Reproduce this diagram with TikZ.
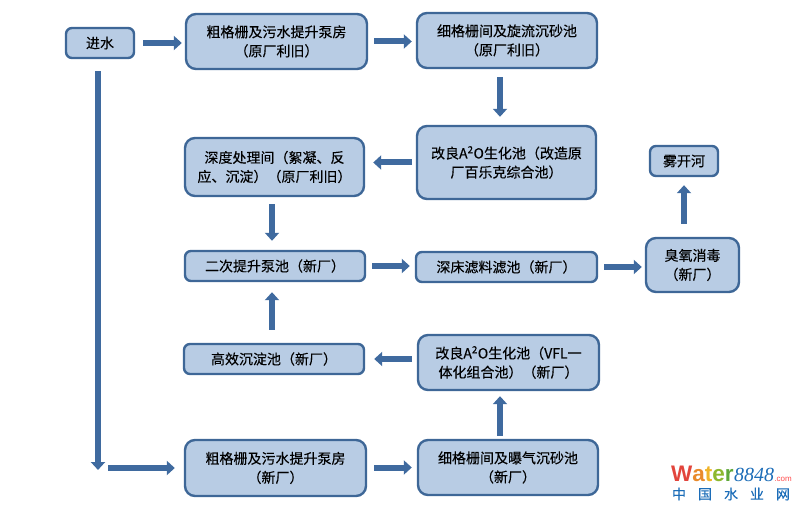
\documentclass[tikz,border=0pt]{standalone}
\usepackage{fontspec}
\setmainfont{Liberation Sans}
\newfontfamily\cjk[FakeBold=0.25]{Noto Sans CJK SC}
\newfontfamily\logofont{Liberation Serif}
\usetikzlibrary{arrows.meta}
\definecolor{boxfill}{HTML}{B8CCE4}
\definecolor{boxline}{HTML}{3E6797}
\definecolor{flowline}{HTML}{3F6A9F}
\definecolor{logoblue}{HTML}{1C6DB8}
\tikzset{
    tank/.style={draw=boxline, fill=boxfill, line width=2.4pt, rounded corners=10pt, align=center, inner sep=0pt,
        font=\cjk\fontsize{14}{19}\selectfont, text=black},
    slimtank/.style={tank, rounded corners=6pt},
    tanksize/.style n args={2}{minimum width=#1pt, minimum height=#2pt},
    flow/.style={draw=flowline, line width=6pt, shorten <=8pt, shorten >=4pt,
        -{Triangle[length=8pt,width=14pt]}},
}
\begin{document}
\begin{tikzpicture}[x=1pt, y=-1pt]
    \useasboundingbox (0,0) rectangle (800,510);

    \node[slimtank, tanksize={68}{30}] (inlet) at (100,43) {进水};
    \node[tank, tanksize={181}{55}] (oldscreen) at (276.5,41.5) {粗格栅及污水提升泵房\\（原厂利旧）};
    \node[tank, tanksize={180}{55}] (oldgrit) at (507,40.5) {细格栅间及旋流沉砂池\\（原厂利旧）};
    \node[tank, tanksize={179}{73}] (oldbio) at (506.5,162.5) {改良A\textsuperscript{2}O生化池（改造原\\厂百乐克综合池）};
    \node[tank, tanksize={179}{58}] (deep) at (274.5,167) {深度处理间（絮凝、反\\应、沉淀）（原厂利旧）};
    \node[slimtank, tanksize={180}{30}] (lift) at (275,266) {二次提升泵池（新厂）};
    \node[slimtank, tanksize={181}{30}] (filter) at (506.5,267) {深床滤料滤池（新厂）};
    \node[tank, tanksize={93}{54}] (ozone) at (692.5,265) {臭氧消毒\\（新厂）};
    \node[slimtank, tanksize={68}{30}] (river) at (684,161) {雾开河};
    \node[slimtank, tanksize={180}{30}] (settle) at (274,359) {高效沉淀池（新厂）};
    \node[tank, tanksize={181}{55}] (newbio) at (508.5,362.5) {改良A\textsuperscript{2}O生化池（VFL一\\体化组合池）（新厂）};
    \node[tank, tanksize={181}{56}] (newscreen) at (275.5,468) {粗格栅及污水提升泵房\\（新厂）};
    \node[tank, tanksize={180}{55}] (newgrit) at (508,467.5) {细格栅间及曝气沉砂池\\（新厂）};

    \coordinate (bend) at (98,470);

    \draw[flow, shorten >=3pt] (inlet.east) -- (inlet.east -| oldscreen.west);
    \draw[flow, shorten <=6pt] (oldscreen.east) -- (oldscreen.east -| oldgrit.west);
    \draw[flow, shorten >=8pt] (oldgrit.south -| 500,0) -- (oldbio.north -| 500,0);
    \draw[flow, shorten <=4pt, shorten >=8pt] (oldbio.west) -- (oldbio.west -| deep.east);
    \draw[flow, shorten <=7pt, shorten >=9pt] (deep.south -| 272,0) -- (lift.north -| 272,0);
    \draw[flow, shorten <=6pt, shorten >=5pt] (lift.east) -- (lift.east -| filter.west);
    \draw[flow, shorten <=6pt, shorten >=3pt] (filter.east) -- (filter.east -| ozone.west);
    \draw[flow, shorten <=13pt, shorten >=8pt] (ozone.north -| river.south) -- (river.south);
    \draw[flow, shorten <=13pt, shorten >=10pt] (settle.north -| 272,0) -- (lift.south -| 272,0);
    \draw[flow, shorten <=5pt, shorten >=9pt] (newbio.west |- settle.east) -- (settle.east);
    \draw[flow, shorten <=3pt, shorten >=5pt] (newgrit.north -| 500,0) -- (newbio.south -| 500,0);
    \draw[flow, shorten <=7pt, shorten >=5pt] (newscreen.east |- newgrit.west) -- (newgrit.west);

    \draw[flow, shorten <=12pt, shorten >=0pt] (inlet.south -| bend) -- (bend);
    \draw[flow, shorten <=10pt, shorten >=9pt] (bend |- newscreen.west) -- (newscreen.west);

    % logo
    \node[inner sep=0pt, anchor=base west, font=\bfseries\fontsize{22.5}{23}\selectfont] (logoname) at (671,481)
        {\textcolor[HTML]{E2453C}{W}\textcolor[HTML]{E98A2B}{a}\textcolor[HTML]{F0B429}{t}\textcolor[HTML]{8DB82F}{e}\textcolor[HTML]{5FA83A}{r}};
    \node[inner sep=0pt, anchor=base west, text=logoblue, font=\logofont\itshape\fontsize{20}{20}\selectfont] (logonum) at (logoname.base east) {8848};
    \node[inner sep=0pt, anchor=base west, text=red!70, font=\fontsize{8}{8}\selectfont] (logocom) at (logonum.base east) {.com};
    \node[inner sep=0pt, anchor=center, text=logoblue, font=\cjk\fontsize{14}{14}\selectfont] (logocn) at (731,494)
        {中\hspace{12pt}国\hspace{12pt}水\hspace{12pt}业\hspace{12pt}网};
\end{tikzpicture}
\end{document}
